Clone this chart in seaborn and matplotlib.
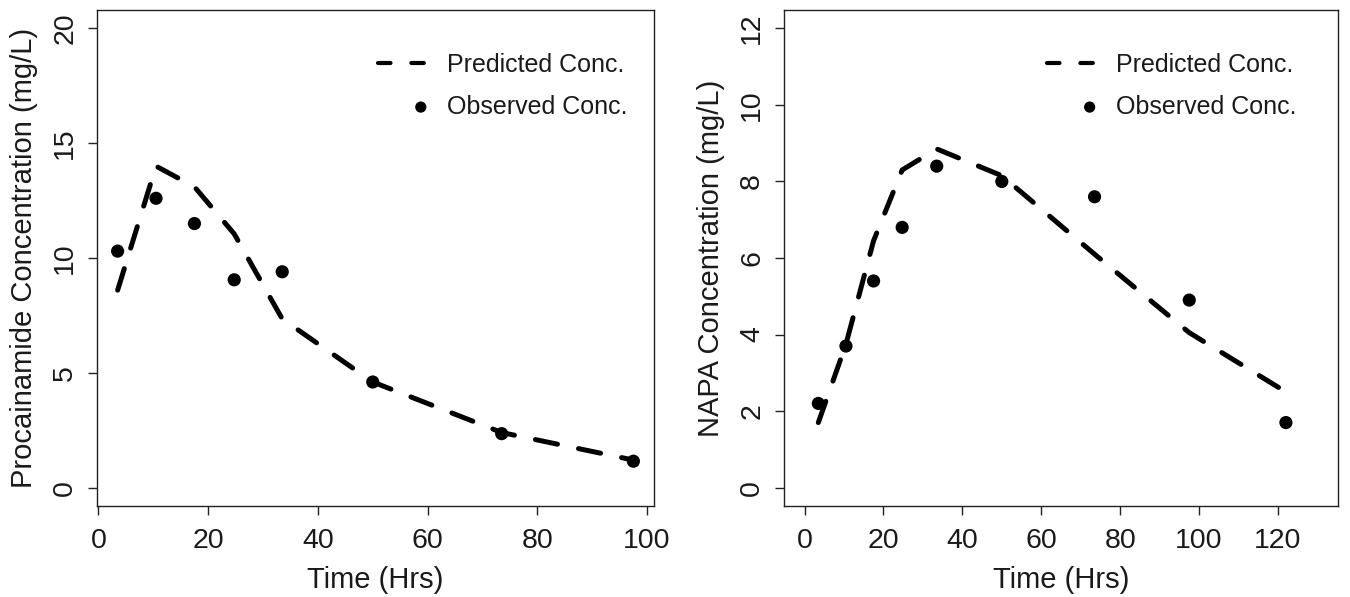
import numpy as np
import pandas as pd
import matplotlib
matplotlib.use("Agg")
import matplotlib.pyplot as plt
import seaborn as sns
from matplotlib.lines import Line2D
from matplotlib.legend_handler import HandlerPathCollection

# ---------------- data ----------------
time_pa = [3.5, 10.5, 17.5, 24.75, 33.5, 50, 73.5, 97.5]
pa_observed = [10.3, 12.6, 11.5, 9.05, 9.4, 4.6, 2.35, 1.15]
pa_predicted = [8.6, 14.0, 13.1, 11.05, 7.35, 4.6, 2.4, 1.2]

time_napa = [3.5, 10.5, 17.5, 24.75, 33.5, 50, 73.5, 97.5, 122]
napa_observed = [2.2, 3.7, 5.4, 6.8, 8.4, 8.0, 7.6, 4.9, 1.7]
napa_predicted = [1.7, 3.75, 6.45, 8.3, 8.85, 8.15, 6.1, 4.05, 2.5]

x_ticks_pa = [0, 20, 40, 60, 80, 100]
y_ticks_pa = [0, 5, 10, 15, 20]
x_ticks_napa = [0, 20, 40, 60, 80, 100, 120]
y_ticks_napa = [0, 2, 4, 6, 8, 10, 12]

x_label = "Time (Hrs)"
y_label_pa = "Procainamide Concentration (mg/L)"
y_label_napa = "NAPA Concentration (mg/L)"
legend_labels = ["Predicted Conc.", "Observed Conc."]

# ---------------- style ----------------
sns.set_style("ticks")
plt.rcParams["font.family"] = ["Liberation Sans", "DejaVu Sans"]
TXT = "#1a1a1a"

W, H = 1350, 597
fig = plt.figure(figsize=(W / 100, H / 100), dpi=100)

LW = 3.6


class RightMarker(HandlerPathCollection):
    def get_xdata(self, legend, xdescent, ydescent, width, height, fontsize):
        x = -xdescent + 0.85 * width
        return [x], [x]


def panel(rect, t, obs, pred, xticks, yticks, xlim, ylim, ylabel, leg_anchor):
    ax = fig.add_axes([rect[0] / W, 1 - rect[3] / H, (rect[2] - rect[0]) / W, (rect[3] - rect[1]) / H])
    df = pd.DataFrame({"time": t, "obs": obs, "pred": pred})
    sns.lineplot(data=df, x="time", y="pred", ax=ax, color="black", lw=LW,
                 linestyle=(0, (4.5, 4.3)), dash_capstyle="round", solid_capstyle="round",
                 legend=False, errorbar=None)
    n_before = len(ax.collections)
    sns.scatterplot(data=df, x="time", y="obs", ax=ax, color="black", s=90,
                    edgecolor="none", legend=False, zorder=3)
    dot_h = ax.collections[n_before]
    ax.set_xlim(*xlim)
    ax.set_ylim(*ylim)
    ax.set_xticks(xticks)
    ax.set_yticks(yticks)
    ax.set_xlabel(x_label, fontsize=21, color=TXT, labelpad=8.5)
    ax.set_ylabel(ylabel, fontsize=21, color=TXT, labelpad=10)
    ax.tick_params(axis="both", labelsize=20.5, length=6.5, width=1.0, colors="#222222",
                   labelcolor=TXT, direction="out")
    ax.tick_params(axis="x", pad=9.5)
    ax.tick_params(axis="y", pad=7)
    for lab in ax.get_yticklabels():
        lab.set_rotation(90)
        lab.set_va("center")
    for sp in ax.spines.values():
        sp.set_visible(True)
        sp.set_color("#222222")
        sp.set_linewidth(1.0)
    ax.set_facecolor("white")

    line_h = Line2D([], [], color="black", lw=3.0, linestyle=(0, (3.0, 5.0)),
                    dash_capstyle="round")
    leg = ax.legend([line_h, dot_h], legend_labels, loc="upper left",
                    bbox_to_anchor=leg_anchor, frameon=False, fontsize=18,
                    handlelength=2.0, handletextpad=0.75, labelspacing=0.7,
                    borderpad=0, borderaxespad=0, scatterpoints=1, markerscale=0.85,
                    handler_map={type(dot_h): RightMarker()})
    for txt in leg.get_texts():
        txt.set_color(TXT)
    return ax


panel((97, 10, 654, 506), time_pa, pa_observed, pa_predicted, x_ticks_pa, y_ticks_pa,
      (-0.26, 101.26), (-0.8, 20.8), y_label_pa, (0.505, 0.913))
panel((784, 10, 1338, 506), time_napa, napa_observed, napa_predicted, x_ticks_napa, y_ticks_napa,
      (-5.2, 135.2), (-0.48, 12.48), y_label_napa, (0.475, 0.913))

fig.savefig("out.png", dpi=100, facecolor="white")
